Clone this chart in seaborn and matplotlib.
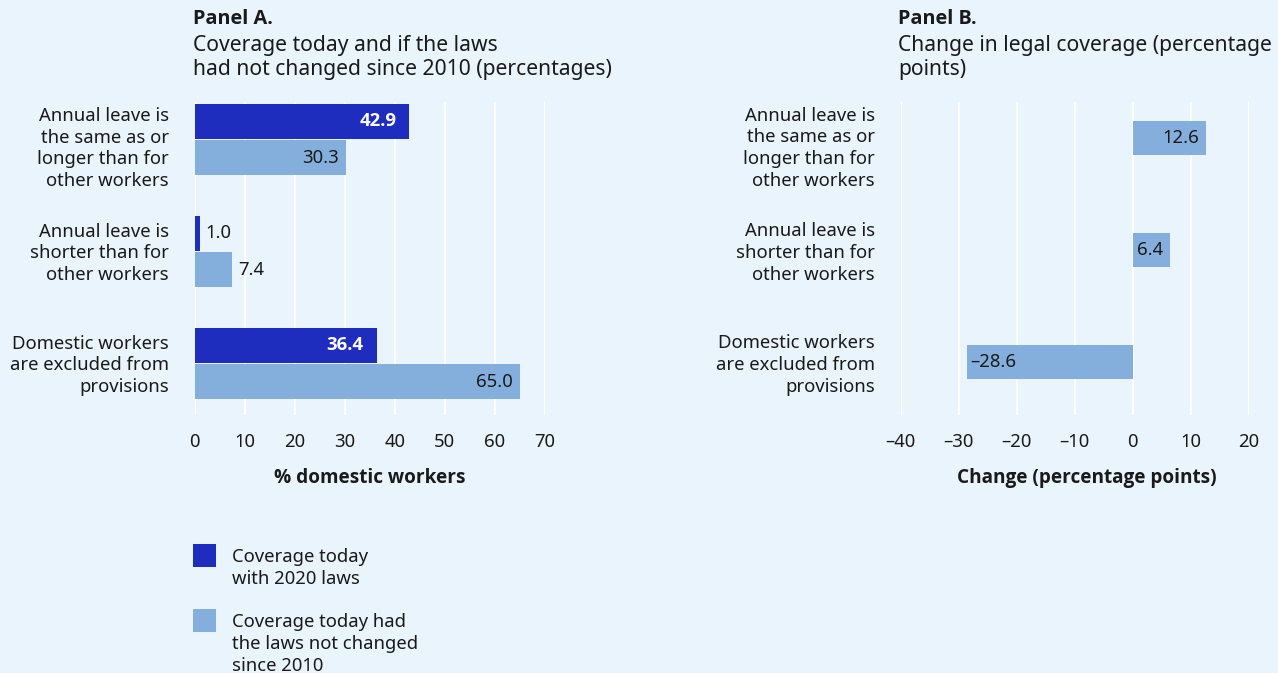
import matplotlib
matplotlib.use("Agg")
import matplotlib.pyplot as plt
import matplotlib.transforms as mtransforms
from matplotlib.patches import Rectangle
import seaborn as sns
import pandas as pd

# --- data -------------------------------------------------------------
categories = [
    "Annual leave is\nthe same as or\nlonger than for\nother workers",
    "Annual leave is\nshorter than for\nother workers",
    "Domestic workers\nare excluded from\nprovisions",
]
series_names = [
    "Coverage today\nwith 2020 laws",
    "Coverage today had\nthe laws not changed\nsince 2010",
]
coverage_2020 = [42.9, 1.0, 36.4]
coverage_2010_laws = [30.3, 7.4, 65.0]
change_pp = [12.6, 6.4, -28.6]

ticks_a = [0, 10, 20, 30, 40, 50, 60, 70]
ticks_b = [-40, -30, -20, -10, 0, 10, 20]

# --- style ------------------------------------------------------------
BG = "#EAF4FD"
DARK = "#1F2DBE"
LIGHT = "#84AFDC"
TXT = "#1A1A1A"
FS = 13.3
LS = 1.28
REG = ["Noto Sans", "Open Sans", "DejaVu Sans"]
BOLD = ["Open Sans", "DejaVu Sans"]

sns.set_theme(style="white")
plt.rcParams["font.family"] = REG
plt.rcParams["text.color"] = TXT
plt.rcParams["axes.labelcolor"] = TXT
plt.rcParams["xtick.color"] = TXT
plt.rcParams["ytick.color"] = TXT

W, H = 1278, 673
fig = plt.figure(figsize=(W / 100, H / 100), dpi=100, facecolor=BG)


def px_axes(left, right, top, bottom):
    return fig.add_axes([left / W, 1 - bottom / H, (right - left) / W, (bottom - top) / H])


def fx(px):
    return px / W


def fy(py):
    return 1 - py / H


ax_a = px_axes(194.7, 544.7, 102, 415)
ax_b = px_axes(900.7, 1248.7, 102, 415)

# --- panel A: grouped horizontal bars ---------------------------------
df_a = pd.DataFrame({
    "category": categories * 2,
    "value": coverage_2020 + coverage_2010_laws,
    "series": [series_names[0]] * 3 + [series_names[1]] * 3,
})
sns.barplot(data=df_a, y="category", x="value", hue="series",
            palette=[DARK, LIGHT], orient="h", width=0.652, gap=0.05,
            saturation=1, legend=False, linewidth=0, ax=ax_a, zorder=3)

# --- panel B: change in percentage points ------------------------------
df_b = pd.DataFrame({"category": categories, "change": change_pp})
sns.barplot(data=df_b, y="category", x="change", color=LIGHT, orient="h",
            width=0.31, saturation=1, linewidth=0, ax=ax_b, zorder=3)

# per-panel settings: ticks, axis title, y offset of the bars (units),
# vertical nudges of the category labels (pixels, positive = down), x of axis title
panels = [
    (ax_a, ticks_a, "% domestic workers", 0.0, [5, -2, -2], 0.5),
    (ax_b, ticks_b, "Change (percentage points)", -0.014, [6.5, -0.5, -0.5], 0.535),
]

for ax, ticks, xlabel, yoff, nudges, xl in panels:
    ax.set_facecolor(BG)
    ax.set_xlim(ticks[0], ticks[-1])
    ax.set_ylim(2.46 - yoff, -0.335 - yoff)
    ax.set_xticks(ticks)
    ax.set_xticklabels([f"{t}".replace("-", "\u2013") for t in ticks], fontsize=FS)
    ax.set_yticks(range(len(categories)))
    ax.set_yticklabels(categories, fontsize=FS, linespacing=LS, ha="right")
    ax.tick_params(axis="x", length=0, pad=13)
    ax.tick_params(axis="y", length=0, pad=18.5)
    ax.set_xlabel(xlabel, fontsize=FS + 0.4, fontweight="bold", family=BOLD, labelpad=12)
    ax.xaxis.label.set_x(xl)
    ax.set_ylabel("")
    ax.grid(axis="x", color="white", linewidth=1.6, zorder=0)
    ax.grid(axis="y", visible=False)
    for s in ax.spines.values():
        s.set_visible(False)
    for lab, dy in zip(ax.get_yticklabels(), nudges):
        shift = mtransforms.ScaledTranslation(0, -dy / 100, fig.dpi_scale_trans)
        lab.set_transform(lab.get_transform() + shift)

# value labels, panel A
for i, v in enumerate(coverage_2020):
    p = ax_a.patches[i]
    y = p.get_y() + p.get_height() / 2
    if v > 10:
        ax_a.annotate(f"{v:.1f}", (v, y), xytext=(-13, 0), textcoords="offset pixels",
                      ha="right", va="center", color="white", fontsize=FS,
                      fontweight="bold", family=BOLD, zorder=5)
    else:
        ax_a.annotate(f"{v:.1f}", (v, y), xytext=(6, 0), textcoords="offset pixels",
                      ha="left", va="center", color=TXT, fontsize=FS, zorder=5)
for i, v in enumerate(coverage_2010_laws):
    p = ax_a.patches[3 + i]
    y = p.get_y() + p.get_height() / 2
    if v > 10:
        ax_a.annotate(f"{v:.1f}", (v, y), xytext=(-7, 0), textcoords="offset pixels",
                      ha="right", va="center", color=TXT, fontsize=FS, zorder=5)
    else:
        ax_a.annotate(f"{v:.1f}", (v, y), xytext=(7, 0), textcoords="offset pixels",
                      ha="left", va="center", color=TXT, fontsize=FS, zorder=5)

# value labels, panel B
for i, v in enumerate(change_pp):
    p = ax_b.patches[i]
    y = p.get_y() + p.get_height() / 2
    label = f"{v:.1f}".replace("-", "\u2013")
    if v >= 0:
        ax_b.annotate(label, (v, y), xytext=(-7, 0), textcoords="offset pixels",
                      ha="right", va="center", color=TXT, fontsize=FS, zorder=5)
    else:
        ax_b.annotate(label, (v, y), xytext=(3, 0), textcoords="offset pixels",
                      ha="left", va="center", color=TXT, fontsize=FS, zorder=5)

# --- titles -----------------------------------------------------------
for x0, head, lines in [
    (193, "Panel A.", ["Coverage today and if the laws",
                       "had not changed since 2010 (percentages)"]),
    (898, "Panel B.", ["Change in legal coverage (percentage", "points)"]),
]:
    fig.text(fx(x0), fy(19), head, fontsize=14.3, fontweight="bold", family=BOLD,
             va="center", ha="left")
    for k, line in enumerate(lines):
        fig.text(fx(x0), fy(45 + 24 * k), line, fontsize=15.2, va="center", ha="left")

# --- legend -----------------------------------------------------------
for (top, name, color) in [(544, series_names[0], DARK), (609, series_names[1], LIGHT)]:
    fig.patches.append(Rectangle((fx(193), fy(top + 22.5)), 23 / W, 22.5 / H,
                                 transform=fig.transFigure, facecolor=color,
                                 edgecolor="none"))
    fig.text(fx(232), fy(top + 4), name, fontsize=FS, va="top", ha="left", linespacing=LS)

fig.savefig("out.png", dpi=100, facecolor=BG)
